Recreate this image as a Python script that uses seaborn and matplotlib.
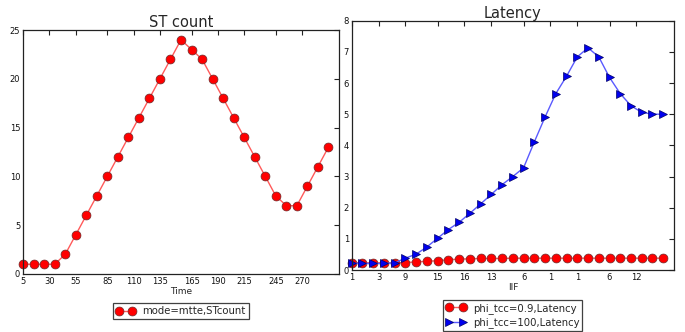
import matplotlib
matplotlib.use("Agg")
import matplotlib.pyplot as plt
import seaborn as sns
import pandas as pd

# Sample times (shared x-axis for both panels)
times = [5, 15, 25, 35, 45, 55, 65, 75, 85, 95,
         105, 115, 125, 135, 145, 155, 165, 175, 185, 195,
         205, 215, 225, 235, 245, 255, 265, 275, 285, 295]

# ST count over time
st_count = [1, 1, 1, 1, 2, 4, 6, 8, 10, 12,
            14, 16, 18, 20, 22, 24, 23, 22, 20, 18,
            16, 14, 12, 10, 8, 7, 7, 9, 11, 13]

# Latency for two phi_tcc settings
lat_phi_09 = [0.24, 0.23, 0.23, 0.23, 0.23, 0.24, 0.26, 0.28, 0.30, 0.33,
              0.35, 0.36, 0.37, 0.37, 0.37, 0.38, 0.38, 0.38, 0.38, 0.38,
              0.38, 0.38, 0.38, 0.38, 0.38, 0.38, 0.38, 0.38, 0.38, 0.38]
lat_phi_100 = [0.22, 0.21, 0.21, 0.21, 0.23, 0.38, 0.51, 0.74, 1.02, 1.30,
               1.53, 1.82, 2.12, 2.43, 2.74, 3.00, 3.28, 4.11, 4.91, 5.66,
               6.22, 6.84, 7.13, 6.84, 6.18, 5.66, 5.27, 5.06, 5.00, 5.00]

# Tick positions and labels
time_ticks = [5, 30, 55, 85, 110, 135, 165, 190, 215, 245, 270]
iif_labels = ["1", "3", "9", "15", "16", "13", "6", "1", "1", "6", "12"]

sns.set_style("white")
plt.rcParams["font.family"] = ["DejaVu Sans"]

df_st = pd.DataFrame({"Time": times, "STcount": st_count})
df_lat = pd.DataFrame({"Time": times, "lat09": lat_phi_09, "lat100": lat_phi_100})

fig = plt.figure(figsize=(6.85, 3.32), dpi=100)
ax1 = fig.add_axes([0.0336, 0.1747, 0.4613, 0.7349])
ax2 = fig.add_axes([0.5134, 0.1867, 0.4705, 0.7509])

red_kw = dict(marker="o", markersize=6.4, color="#ff5a5a", linewidth=1.0,
              markerfacecolor="#ff0000", markeredgecolor="#6a2a2a",
              markeredgewidth=0.5, clip_on=False)
blue_kw = dict(marker=">", markersize=6.4, color="#5a5aff", linewidth=1.0,
               markerfacecolor="#0000ee", markeredgecolor="#000066",
               markeredgewidth=0.5, clip_on=False)

sns.lineplot(data=df_st, x="Time", y="STcount", ax=ax1,
             label="mode=mtte,STcount", **red_kw)
sns.lineplot(data=df_lat, x="Time", y="lat09", ax=ax2,
             label="phi_tcc=0.9,Latency", **red_kw)
sns.lineplot(data=df_lat, x="Time", y="lat100", ax=ax2,
             label="phi_tcc=100,Latency", **blue_kw)

for ax in (ax1, ax2):
    ax.set_xlim(5, 305)
    ax.set_xticks(time_ticks)
    ax.tick_params(direction="in", length=3.5, width=0.8, pad=2,
                   labelsize=6, top=True, right=True, colors="#222222",
                   labelcolor="#111111")
    for s in ax.spines.values():
        s.set_color("#222222")
        s.set_linewidth(0.9)
    ax.set_ylabel("")

ax1.set_ylim(0, 25)
ax1.set_yticks([0, 5, 10, 15, 20, 25])
ax1.set_xticklabels([str(t) for t in time_ticks])
ax1.set_xlabel("Time", fontsize=6.5, labelpad=1)
ax1.set_title("ST count", fontsize=10.5, pad=2)

ax2.set_ylim(0, 8)
ax2.set_yticks(range(0, 9))
ax2.set_xticklabels(iif_labels)
ax2.set_xlabel("IIF", fontsize=6.5, labelpad=1)
ax2.set_title("Latency", fontsize=10.5, pad=2)

for ax in (ax1, ax2):
    leg = ax.legend(loc="upper center", bbox_to_anchor=(0.5, -0.12),
                    fontsize=7.3, numpoints=2, handlelength=1.9,
                    handletextpad=0.7, borderpad=0.3, labelspacing=0.35,
                    fancybox=False, frameon=True, borderaxespad=0)
    leg.get_frame().set_edgecolor("#111111")
    leg.get_frame().set_linewidth(0.9)

fig.savefig("out.png", dpi=100)
